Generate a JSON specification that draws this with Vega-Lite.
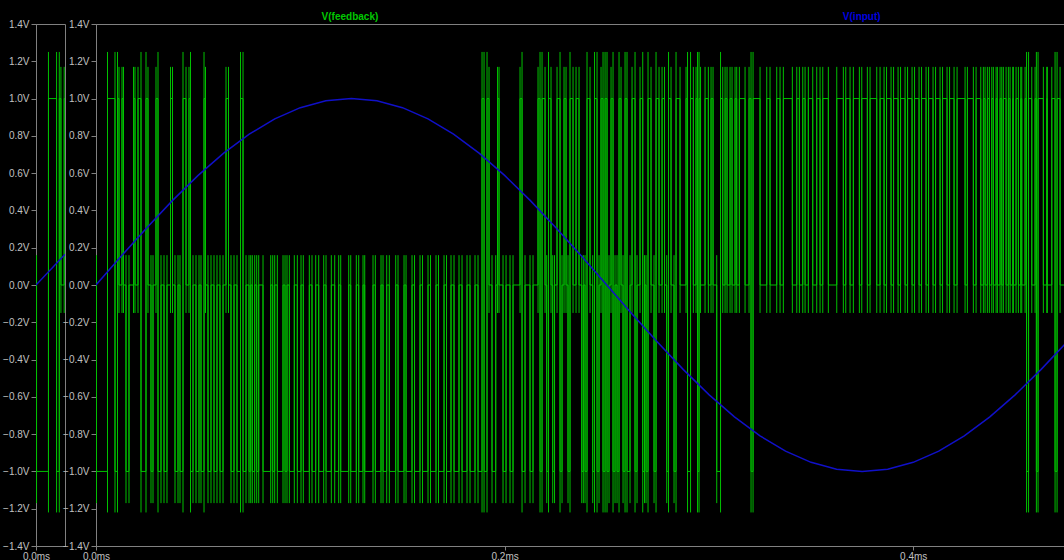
{
"$schema": "https://vega.github.io/schema/vega-lite/v6.json",
"background": "black",
"padding": {"left": 2, "top": 11, "right": 0, "bottom": 0},
"bounds": "flush",
"spacing": 31,
"config": {
  "view": {"fill": "black", "stroke": "#808080", "strokeWidth": 1},
  "axis": {"grid": false, "domainColor": "#808080", "tickColor": "#808080", "labelColor": "#c0c0c0", "labelFont": "Liberation Sans", "labelFontSize": 10, "tickSize": 5, "labelPadding": 2, "labelFlush": false, "labelOverlap": false, "title": null},
  "axisX": {"tickSize": 4, "labelPadding": 1}
},
"datasets": {
"fb": [
{"t":0,"v":0},
{"t":0.24,"v":-1,"lo":-1.17,"hi":0.16},
{"t":5.63,"v":1,"lo":-1.22,"hi":1.25},
{"t":9.30,"v":-1,"lo":-1.22,"hi":1.25},
{"t":10.52,"v":1,"lo":-1.22,"hi":1.25},
{"t":11.26,"v":0,"lo":-0.15,"hi":1.17},
{"t":12.73,"v":1,"lo":-0.15,"hi":1.17},
{"t":13.46,"v":0,"lo":-0.15,"hi":1.17},
{"t":14.69,"v":-1,"lo":-1.17,"hi":0.16},
{"t":16.15,"v":0,"lo":-1.17,"hi":0.16},
{"t":18.36,"v":1,"lo":-0.15,"hi":1.17},
{"t":19.09,"v":0,"lo":-0.15,"hi":1.17},
{"t":20.56,"v":1,"lo":-0.15,"hi":1.17},
{"t":22.03,"v":-1,"lo":-1.22,"hi":1.25},
{"t":24.48,"v":1,"lo":-1.22,"hi":1.25},
{"t":25.45,"v":0,"lo":-0.15,"hi":1.17},
{"t":26.92,"v":-1,"lo":-1.17,"hi":0.16},
{"t":27.90,"v":0,"lo":-1.17,"hi":0.16},
{"t":29.37,"v":1,"lo":-0.15,"hi":1.17},
{"t":30.35,"v":-1,"lo":-1.22,"hi":1.25},
{"t":31.82,"v":0,"lo":-1.17,"hi":0.16},
{"t":33.29,"v":-1,"lo":-1.17,"hi":0.16},
{"t":34.75,"v":0,"lo":-1.17,"hi":0.16},
{"t":36.47,"v":1,"lo":-0.15,"hi":1.17},
{"t":37.45,"v":0,"lo":-0.15,"hi":1.17},
{"t":38.67,"v":-1,"lo":-1.17,"hi":0.16},
{"t":40.14,"v":0,"lo":-1.17,"hi":0.16},
{"t":41.12,"v":-1,"lo":-1.17,"hi":0.16},
{"t":42.59,"v":1,"lo":-1.22,"hi":1.25},
{"t":44.06,"v":0,"lo":-0.15,"hi":1.17},
{"t":45.52,"v":1,"lo":-0.15,"hi":1.17},
{"t":46.26,"v":-1,"lo":-1.22,"hi":1.25},
{"t":47.48,"v":0,"lo":-1.17,"hi":0.16},
{"t":48.95,"v":-1,"lo":-1.17,"hi":0.16},
{"t":50.42,"v":0,"lo":-1.17,"hi":0.16},
{"t":51.40,"v":-1,"lo":-1.17,"hi":0.16},
{"t":52.87,"v":1,"lo":-1.22,"hi":1.25},
{"t":53.60,"v":0,"lo":-0.15,"hi":1.17},
{"t":54.82,"v":-1,"lo":-1.17,"hi":0.16},
{"t":56.29,"v":0,"lo":-1.17,"hi":0.16},
{"t":57.76,"v":-1,"lo":-1.17,"hi":0.16},
{"t":59.23,"v":0,"lo":-1.17,"hi":0.16},
{"t":60.70,"v":-1,"lo":-1.17,"hi":0.16},
{"t":62.17,"v":0,"lo":-1.17,"hi":0.16},
{"t":63.64,"v":1,"lo":-0.15,"hi":1.17},
{"t":64.86,"v":0,"lo":-0.15,"hi":1.17},
{"t":66.08,"v":-1,"lo":-1.17,"hi":0.16},
{"t":67.55,"v":0,"lo":-1.17,"hi":0.16},
{"t":69.02,"v":-1,"lo":-1.17,"hi":0.16},
{"t":70.73,"v":1,"lo":-1.22,"hi":1.25},
{"t":71.96,"v":-1,"lo":-1.22,"hi":1.25},
{"t":73.43,"v":0,"lo":-1.17,"hi":0.16},
{"t":74.89,"v":-1,"lo":-1.17,"hi":0.16},
{"t":75.73,"v":0,"lo":-1.17,"hi":0.16},
{"t":76.51,"v":-1,"lo":-1.17,"hi":0.16},
{"t":77.68,"v":0,"lo":-1.17,"hi":0.16},
{"t":78.66,"v":-1,"lo":-1.17,"hi":0.16},
{"t":79.64,"v":0,"lo":-1.17,"hi":0.16},
{"t":81.75,"v":-1,"lo":-1.17,"hi":0.16},
{"t":85.52,"v":0,"lo":-1.17,"hi":0.16},
{"t":86.50,"v":-1,"lo":-1.17,"hi":0.16},
{"t":87.47,"v":0,"lo":-1.17,"hi":0.16},
{"t":88.75,"v":-1,"lo":-1.17,"hi":0.16},
{"t":91.54,"v":0,"lo":-1.17,"hi":0.16},
{"t":92.52,"v":-1,"lo":-1.17,"hi":0.16},
{"t":93.49,"v":0,"lo":-1.17,"hi":0.16},
{"t":94.62,"v":-1,"lo":-1.17,"hi":0.16},
{"t":97.07,"v":0,"lo":-1.17,"hi":0.16},
{"t":98.54,"v":-1,"lo":-1.17,"hi":0.16},
{"t":100.35,"v":0,"lo":-1.17,"hi":0.16},
{"t":101.47,"v":-1,"lo":-1.17,"hi":0.16},
{"t":104.41,"v":0,"lo":-1.17,"hi":0.16},
{"t":105.73,"v":-1,"lo":-1.17,"hi":0.16},
{"t":107.54,"v":0,"lo":-1.17,"hi":0.16},
{"t":109.01,"v":-1,"lo":-1.17,"hi":0.16},
{"t":111.46,"v":0,"lo":-1.17,"hi":0.16},
{"t":112.59,"v":-1,"lo":-1.17,"hi":0.16},
{"t":115.18,"v":0,"lo":-1.17,"hi":0.16},
{"t":116.84,"v":-1,"lo":-1.17,"hi":0.16},
{"t":118.80,"v":0,"lo":-1.17,"hi":0.16},
{"t":119.78,"v":-1,"lo":-1.17,"hi":0.16},
{"t":123.70,"v":0,"lo":-1.17,"hi":0.16},
{"t":124.68,"v":-1,"lo":-1.17,"hi":0.16},
{"t":127.42,"v":0,"lo":-1.17,"hi":0.16},
{"t":128.59,"v":-1,"lo":-1.17,"hi":0.16},
{"t":130.70,"v":0,"lo":-1.17,"hi":0.16},
{"t":131.53,"v":-1,"lo":-1.17,"hi":0.16},
{"t":135.59,"v":0,"lo":-1.17,"hi":0.16},
{"t":136.72,"v":-1,"lo":-1.17,"hi":0.16},
{"t":139.51,"v":0,"lo":-1.17,"hi":0.16},
{"t":140.49,"v":-1,"lo":-1.17,"hi":0.16},
{"t":142.30,"v":0,"lo":-1.17,"hi":0.16},
{"t":143.57,"v":-1,"lo":-1.17,"hi":0.16},
{"t":146.70,"v":0,"lo":-1.17,"hi":0.16},
{"t":147.83,"v":-1,"lo":-1.17,"hi":0.16},
{"t":150.77,"v":0,"lo":-1.17,"hi":0.16},
{"t":151.75,"v":-1,"lo":-1.17,"hi":0.16},
{"t":154.68,"v":0,"lo":-1.17,"hi":0.16},
{"t":155.91,"v":-1,"lo":-1.17,"hi":0.16},
{"t":158.60,"v":0,"lo":-1.17,"hi":0.16},
{"t":159.82,"v":-1,"lo":-1.17,"hi":0.16},
{"t":162.51,"v":0,"lo":-1.17,"hi":0.16},
{"t":163.74,"v":-1,"lo":-1.17,"hi":0.16},
{"t":166.43,"v":0,"lo":-1.17,"hi":0.16},
{"t":167.65,"v":-1,"lo":-1.17,"hi":0.16},
{"t":170.35,"v":0,"lo":-1.17,"hi":0.16},
{"t":171.57,"v":-1,"lo":-1.17,"hi":0.16},
{"t":173.77,"v":0,"lo":-1.17,"hi":0.16},
{"t":175.24,"v":-1,"lo":-1.17,"hi":0.16},
{"t":177.69,"v":0,"lo":-1.17,"hi":0.16},
{"t":179.16,"v":-1,"lo":-1.17,"hi":0.16},
{"t":181.60,"v":0,"lo":-1.17,"hi":0.16},
{"t":183.07,"v":-1,"lo":-1.17,"hi":0.16},
{"t":185.52,"v":0,"lo":-1.17,"hi":0.16},
{"t":186.99,"v":-1,"lo":-1.17,"hi":0.16},
{"t":188.95,"v":1,"lo":-1.22,"hi":1.25},
{"t":189.93,"v":-1,"lo":-1.22,"hi":1.25},
{"t":191.39,"v":1,"lo":-1.22,"hi":1.25},
{"t":192.37,"v":0,"lo":-0.15,"hi":1.17},
{"t":193.84,"v":-1,"lo":-1.17,"hi":0.16},
{"t":195.65,"v":0,"lo":-1.17,"hi":0.16},
{"t":196.53,"v":1,"lo":-0.15,"hi":1.17},
{"t":197.27,"v":0,"lo":-0.15,"hi":1.17},
{"t":199.23,"v":-1,"lo":-1.17,"hi":0.16},
{"t":200.70,"v":0,"lo":-1.17,"hi":0.16},
{"t":202.65,"v":-1,"lo":-1.17,"hi":0.16},
{"t":204.12,"v":0,"lo":-1.17,"hi":0.16},
{"t":207.55,"v":1,"lo":-0.15,"hi":1.17},
{"t":208.53,"v":-1,"lo":-1.22,"hi":1.25},
{"t":210.00,"v":0,"lo":-1.17,"hi":0.16},
{"t":212.44,"v":-1,"lo":-1.17,"hi":0.16},
{"t":213.91,"v":0,"lo":-1.17,"hi":0.16},
{"t":216.36,"v":1,"lo":-0.15,"hi":1.17},
{"t":217.34,"v":-1,"lo":-1.22,"hi":1.25},
{"t":218.32,"v":1,"lo":-1.22,"hi":1.25},
{"t":219.79,"v":0,"lo":-0.15,"hi":1.17},
{"t":220.62,"v":-1,"lo":-1.17,"hi":0.16},
{"t":221.50,"v":1,"lo":-1.22,"hi":1.25},
{"t":222.72,"v":0,"lo":-0.15,"hi":1.17},
{"t":223.55,"v":-1,"lo":-1.17,"hi":0.16},
{"t":224.44,"v":0,"lo":-1.17,"hi":0.16},
{"t":225.66,"v":1,"lo":-0.15,"hi":1.17},
{"t":227.13,"v":-1,"lo":-1.22,"hi":1.25},
{"t":228.11,"v":0,"lo":-1.17,"hi":0.16},
{"t":229.09,"v":1,"lo":-0.15,"hi":1.17},
{"t":230.07,"v":0,"lo":-0.15,"hi":1.17},
{"t":231.04,"v":-1,"lo":-1.17,"hi":0.16},
{"t":232.02,"v":1,"lo":-1.22,"hi":1.25},
{"t":233.49,"v":0,"lo":-0.15,"hi":1.17},
{"t":234.96,"v":1,"lo":-0.15,"hi":1.17},
{"t":236.43,"v":0,"lo":-0.15,"hi":1.17},
{"t":237.75,"v":-1,"lo":-1.17,"hi":0.16},
{"t":238.53,"v":0,"lo":-1.17,"hi":0.16},
{"t":239.37,"v":-1,"lo":-1.17,"hi":0.16},
{"t":240.34,"v":1,"lo":-1.22,"hi":1.25},
{"t":241.81,"v":0,"lo":-0.15,"hi":1.17},
{"t":243.13,"v":-1,"lo":-1.17,"hi":0.16},
{"t":244.02,"v":1,"lo":-1.22,"hi":1.25},
{"t":245.24,"v":-1,"lo":-1.22,"hi":1.25},
{"t":246.22,"v":0,"lo":-1.17,"hi":0.16},
{"t":247.20,"v":1,"lo":-0.15,"hi":1.17},
{"t":248.18,"v":-1,"lo":-1.22,"hi":1.25},
{"t":249.16,"v":1,"lo":-1.22,"hi":1.25},
{"t":250.13,"v":-1,"lo":-1.22,"hi":1.25},
{"t":251.11,"v":0,"lo":-1.17,"hi":0.16},
{"t":252.09,"v":1,"lo":-0.15,"hi":1.17},
{"t":253.07,"v":-1,"lo":-1.22,"hi":1.25},
{"t":254.05,"v":0,"lo":-1.17,"hi":0.16},
{"t":255.03,"v":-1,"lo":-1.17,"hi":0.16},
{"t":256.01,"v":1,"lo":-1.22,"hi":1.25},
{"t":256.99,"v":0,"lo":-0.15,"hi":1.17},
{"t":257.97,"v":-1,"lo":-1.17,"hi":0.16},
{"t":258.95,"v":1,"lo":-1.22,"hi":1.25},
{"t":259.92,"v":-1,"lo":-1.22,"hi":1.25},
{"t":261.39,"v":0,"lo":-1.17,"hi":0.16},
{"t":262.37,"v":1,"lo":-0.15,"hi":1.17},
{"t":263.84,"v":-1,"lo":-1.22,"hi":1.25},
{"t":264.82,"v":0,"lo":-1.17,"hi":0.16},
{"t":266.29,"v":1,"lo":-0.15,"hi":1.17},
{"t":267.61,"v":-1,"lo":-1.22,"hi":1.25},
{"t":268.49,"v":0,"lo":-1.17,"hi":0.16},
{"t":269.23,"v":-1,"lo":-1.17,"hi":0.16},
{"t":270.20,"v":1,"lo":-1.22,"hi":1.25},
{"t":271.67,"v":0,"lo":-0.15,"hi":1.17},
{"t":273.14,"v":-1,"lo":-1.17,"hi":0.16},
{"t":274.12,"v":1,"lo":-1.22,"hi":1.25},
{"t":275.59,"v":0,"lo":-0.15,"hi":1.17},
{"t":277.06,"v":1,"lo":-0.15,"hi":1.17},
{"t":278.28,"v":0,"lo":-0.15,"hi":1.17},
{"t":279.36,"v":-1,"lo":-1.17,"hi":0.16},
{"t":280.24,"v":1,"lo":-1.22,"hi":1.25},
{"t":281.46,"v":0,"lo":-0.15,"hi":1.17},
{"t":282.93,"v":-1,"lo":-1.17,"hi":0.16},
{"t":283.91,"v":1,"lo":-1.22,"hi":1.25},
{"t":285.87,"v":0,"lo":-0.15,"hi":1.17},
{"t":288.81,"v":1,"lo":-0.15,"hi":1.17},
{"t":289.54,"v":-1,"lo":-1.22,"hi":1.25},
{"t":291.01,"v":1,"lo":-1.22,"hi":1.25},
{"t":292.38,"v":0,"lo":-0.15,"hi":1.17},
{"t":293.70,"v":1,"lo":-0.15,"hi":1.17},
{"t":294.43,"v":-1,"lo":-1.22,"hi":1.25},
{"t":295.17,"v":1,"lo":-1.22,"hi":1.25},
{"t":295.90,"v":0,"lo":-0.15,"hi":1.17},
{"t":298.11,"v":1,"lo":-0.15,"hi":1.17},
{"t":299.72,"v":0,"lo":-0.15,"hi":1.17},
{"t":301.04,"v":1,"lo":-0.15,"hi":1.17},
{"t":302.02,"v":0,"lo":-0.15,"hi":1.17},
{"t":303.83,"v":-1,"lo":-1.17,"hi":0.16},
{"t":305.69,"v":1,"lo":-1.22,"hi":1.25},
{"t":306.77,"v":0,"lo":-0.15,"hi":1.17},
{"t":307.90,"v":1,"lo":-0.15,"hi":1.17},
{"t":308.87,"v":0,"lo":-0.15,"hi":1.17},
{"t":310.34,"v":1,"lo":-0.15,"hi":1.17},
{"t":311.32,"v":0,"lo":-0.15,"hi":1.17},
{"t":312.79,"v":1,"lo":-0.15,"hi":1.17},
{"t":313.62,"v":0,"lo":-0.15,"hi":1.17},
{"t":314.90,"v":1,"lo":-0.15,"hi":1.17},
{"t":317.69,"v":0,"lo":-0.15,"hi":1.17},
{"t":319.64,"v":1,"lo":-0.15,"hi":1.17},
{"t":320.62,"v":-1,"lo":-1.22,"hi":1.25},
{"t":321.60,"v":1,"lo":-1.22,"hi":1.25},
{"t":325.03,"v":0,"lo":-0.15,"hi":1.17},
{"t":328.31,"v":1,"lo":-0.15,"hi":1.17},
{"t":329.92,"v":0,"lo":-0.15,"hi":1.17},
{"t":333.20,"v":1,"lo":-0.15,"hi":1.17},
{"t":334.82,"v":0,"lo":-0.15,"hi":1.17},
{"t":336.43,"v":1,"lo":-0.15,"hi":1.17},
{"t":340.84,"v":0,"lo":-0.15,"hi":1.17},
{"t":343.00,"v":1,"lo":-0.15,"hi":1.17},
{"t":344.27,"v":0,"lo":-0.15,"hi":1.17},
{"t":345.93,"v":1,"lo":-0.15,"hi":1.17},
{"t":347.06,"v":0,"lo":-0.15,"hi":1.17},
{"t":348.67,"v":1,"lo":-0.15,"hi":1.17},
{"t":350.82,"v":0,"lo":-0.15,"hi":1.17},
{"t":352.78,"v":1,"lo":-0.15,"hi":1.17},
{"t":354.40,"v":0,"lo":-0.15,"hi":1.17},
{"t":355.72,"v":1,"lo":-0.15,"hi":1.17},
{"t":358.46,"v":0,"lo":-0.15,"hi":1.17},
{"t":362.57,"v":1,"lo":-0.15,"hi":1.17},
{"t":365.80,"v":0,"lo":-0.15,"hi":1.17},
{"t":366.98,"v":1,"lo":-0.15,"hi":1.17},
{"t":369.08,"v":0,"lo":-0.15,"hi":1.17},
{"t":370.70,"v":1,"lo":-0.15,"hi":1.17},
{"t":373.64,"v":0,"lo":-0.15,"hi":1.17},
{"t":374.81,"v":1,"lo":-0.15,"hi":1.17},
{"t":377.55,"v":0,"lo":-0.15,"hi":1.17},
{"t":378.87,"v":1,"lo":-0.15,"hi":1.17},
{"t":382.15,"v":0,"lo":-0.15,"hi":1.17},
{"t":383.77,"v":1,"lo":-0.15,"hi":1.17},
{"t":385.73,"v":0,"lo":-0.15,"hi":1.17},
{"t":386.95,"v":1,"lo":-0.15,"hi":1.17},
{"t":389.15,"v":0,"lo":-0.15,"hi":1.17},
{"t":390.38,"v":1,"lo":-0.15,"hi":1.17},
{"t":392.58,"v":0,"lo":-0.15,"hi":1.17},
{"t":393.80,"v":1,"lo":-0.15,"hi":1.17},
{"t":396.01,"v":0,"lo":-0.15,"hi":1.17},
{"t":397.23,"v":1,"lo":-0.15,"hi":1.17},
{"t":399.43,"v":0,"lo":-0.15,"hi":1.17},
{"t":400.66,"v":1,"lo":-0.15,"hi":1.17},
{"t":402.86,"v":0,"lo":-0.15,"hi":1.17},
{"t":404.08,"v":1,"lo":-0.15,"hi":1.17},
{"t":406.29,"v":0,"lo":-0.15,"hi":1.17},
{"t":407.51,"v":1,"lo":-0.15,"hi":1.17},
{"t":409.71,"v":0,"lo":-0.15,"hi":1.17},
{"t":410.94,"v":1,"lo":-0.15,"hi":1.17},
{"t":413.14,"v":0,"lo":-0.15,"hi":1.17},
{"t":414.36,"v":1,"lo":-0.15,"hi":1.17},
{"t":416.56,"v":0,"lo":-0.15,"hi":1.17},
{"t":417.79,"v":1,"lo":-0.15,"hi":1.17},
{"t":419.99,"v":0,"lo":-0.15,"hi":1.17},
{"t":421.46,"v":1,"lo":-0.15,"hi":1.17},
{"t":425.38,"v":0,"lo":-0.15,"hi":1.17},
{"t":426.50,"v":1,"lo":-0.15,"hi":1.17},
{"t":429.44,"v":0,"lo":-0.15,"hi":1.17},
{"t":430.76,"v":1,"lo":-0.15,"hi":1.17},
{"t":433.06,"v":0,"lo":-0.15,"hi":1.17},
{"t":434.33,"v":1,"lo":-0.15,"hi":1.17},
{"t":435.17,"v":0,"lo":-0.15,"hi":1.17},
{"t":436.29,"v":1,"lo":-0.15,"hi":1.17},
{"t":437.27,"v":0,"lo":-0.15,"hi":1.17},
{"t":438.45,"v":1,"lo":-0.15,"hi":1.17},
{"t":439.23,"v":0,"lo":-0.15,"hi":1.17},
{"t":440.55,"v":1,"lo":-0.15,"hi":1.17},
{"t":441.19,"v":0,"lo":-0.15,"hi":1.17},
{"t":442.51,"v":1,"lo":-0.15,"hi":1.17},
{"t":443.34,"v":0,"lo":-0.15,"hi":1.17},
{"t":444.12,"v":1,"lo":-0.15,"hi":1.17},
{"t":445.45,"v":0,"lo":-0.15,"hi":1.17},
{"t":446.57,"v":1,"lo":-0.15,"hi":1.17},
{"t":447.41,"v":0,"lo":-0.15,"hi":1.17},
{"t":448.72,"v":1,"lo":-0.15,"hi":1.17},
{"t":449.02,"v":0,"lo":-0.15,"hi":1.17},
{"t":450.34,"v":1,"lo":-0.15,"hi":1.17},
{"t":451.47,"v":0,"lo":-0.15,"hi":1.17},
{"t":452.64,"v":1,"lo":-0.15,"hi":1.17},
{"t":453.13,"v":0,"lo":-0.15,"hi":1.17},
{"t":454.75,"v":1,"lo":-0.15,"hi":1.17},
{"t":455.48,"v":-1,"lo":-1.22,"hi":1.25},
{"t":456.46,"v":1,"lo":-1.22,"hi":1.25},
{"t":458.03,"v":0,"lo":-0.15,"hi":1.17},
{"t":459.64,"v":1,"lo":-0.15,"hi":1.17},
{"t":460.28,"v":-1,"lo":-1.22,"hi":1.25},
{"t":461.11,"v":1,"lo":-1.22,"hi":1.25},
{"t":463.70,"v":0,"lo":-0.15,"hi":1.17},
{"t":465.37,"v":1,"lo":-0.15,"hi":1.17},
{"t":465.66,"v":0,"lo":-0.15,"hi":1.17},
{"t":467.82,"v":1,"lo":-0.15,"hi":1.17},
{"t":469.43,"v":-1,"lo":-1.22,"hi":1.25},
{"t":470.41,"v":1,"lo":-1.22,"hi":1.25},
{"t":471.88,"v":0,"lo":-0.15,"hi":1.17},
{"t":475,"v":0}
],
"inp": [
{"t":0,"v":0},{"t":12.5,"v":0.1564},{"t":25,"v":0.309},{"t":37.5,"v":0.454},{"t":50,"v":0.5878},
{"t":62.5,"v":0.7071},{"t":75,"v":0.809},{"t":87.5,"v":0.891},{"t":100,"v":0.9511},{"t":112.5,"v":0.9877},
{"t":125,"v":1},{"t":137.5,"v":0.9877},{"t":150,"v":0.9511},{"t":162.5,"v":0.891},{"t":175,"v":0.809},
{"t":187.5,"v":0.7071},{"t":200,"v":0.5878},{"t":212.5,"v":0.454},{"t":225,"v":0.309},{"t":237.5,"v":0.1564},
{"t":250,"v":0},{"t":262.5,"v":-0.1564},{"t":275,"v":-0.309},{"t":287.5,"v":-0.454},{"t":300,"v":-0.5878},
{"t":312.5,"v":-0.7071},{"t":325,"v":-0.809},{"t":337.5,"v":-0.891},{"t":350,"v":-0.9511},{"t":362.5,"v":-0.9877},
{"t":375,"v":-1},{"t":387.5,"v":-0.9877},{"t":400,"v":-0.9511},{"t":412.5,"v":-0.891},{"t":425,"v":-0.809},
{"t":437.5,"v":-0.7071},{"t":450,"v":-0.5878},{"t":462.5,"v":-0.454},{"t":475,"v":-0.309}
],
"lbl": [
{"t":124.3,"v":1.44,"label":"V(feedback)"},
{"t":374.8,"v":1.44,"label":"V(input)"}
]
},
"hconcat": [
{
  "width": 29, "height": 522,
  "encoding": {
    "x": {"field": "t", "type": "quantitative", "scale": {"domain": [0, 13.1], "nice": false, "zero": false},
          "axis": {"values": [0], "labelExpr": "format(datum.value/1000, '.1f') + 'ms'"}},
    "y": {"field": "v", "type": "quantitative", "scale": {"domain": [-1.4, 1.4], "nice": false},
          "axis": {"values": [-1.4,-1.2,-1,-0.8,-0.6,-0.4,-0.2,0,0.2,0.4,0.6,0.8,1,1.2,1.4], "labelExpr": "format(datum.value, '.1f') + 'V'"}}
  },
  "layer": [
    {"data": {"name": "fb"}, "mark": {"type": "line", "interpolate": "step-after", "color": "#00c000", "strokeWidth": 1, "clip": true}},
    {"data": {"name": "fb"}, "mark": {"type": "rule", "color": "#00c000", "strokeWidth": 1, "clip": true},
     "encoding": {"y": {"field": "lo", "type": "quantitative"}, "y2": {"field": "hi"}}},
    {"data": {"name": "inp"}, "mark": {"type": "line", "color": "#1010c8", "strokeWidth": 1.5, "clip": true}}
  ]
},
{
  "width": 968, "height": 522,
  "encoding": {
    "x": {"field": "t", "type": "quantitative", "scale": {"domain": [0, 473.8], "nice": false, "zero": false},
          "axis": {"values": [0, 200, 400], "labelExpr": "format(datum.value/1000, '.1f') + 'ms'"}},
    "y": {"field": "v", "type": "quantitative", "scale": {"domain": [-1.4, 1.4], "nice": false},
          "axis": {"values": [-1.4,-1.2,-1,-0.8,-0.6,-0.4,-0.2,0,0.2,0.4,0.6,0.8,1,1.2,1.4], "labelExpr": "format(datum.value, '.1f') + 'V'"}}
  },
  "layer": [
    {"data": {"name": "fb"}, "mark": {"type": "line", "interpolate": "step-after", "color": "#00c000", "strokeWidth": 1, "clip": true}},
    {"data": {"name": "fb"}, "mark": {"type": "rule", "color": "#00c000", "strokeWidth": 1, "clip": true},
     "encoding": {"y": {"field": "lo", "type": "quantitative"}, "y2": {"field": "hi"}}},
    {"data": {"name": "inp"}, "mark": {"type": "line", "color": "#1010c8", "strokeWidth": 1.5, "clip": true}},
    {"data": {"name": "lbl"}, "mark": {"type": "text", "font": "Liberation Sans", "fontSize": 10, "fontWeight": "bold", "baseline": "middle"},
     "encoding": {"text": {"field": "label"},
                  "color": {"field": "label", "type": "nominal", "scale": {"domain": ["V(feedback)", "V(input)"], "range": ["#00c800", "#0000e0"]}, "legend": null}}}
  ]
}
]
}
